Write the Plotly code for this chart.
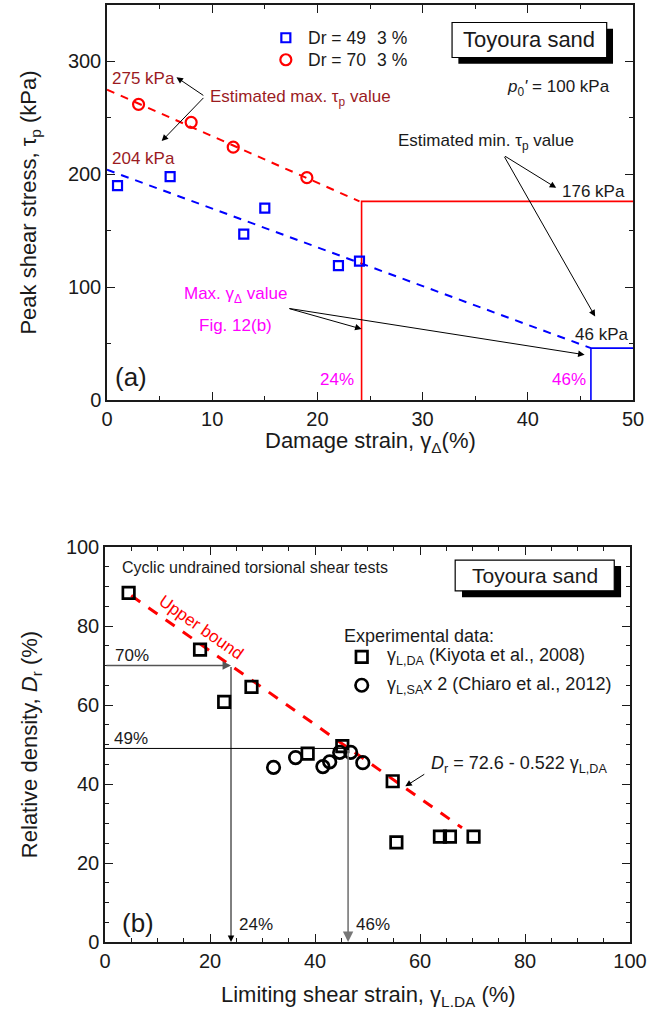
import plotly.graph_objects as go

# ---------------- data: panel (a) ----------------
blue_x = [1, 6, 13, 15, 22, 24]
blue_y = [190, 198, 147, 170, 119, 123]
red_x = [3, 8, 12, 19]
red_y = [262, 246, 224, 197]
red_fit_x = [0, 24]
red_fit_y = [275, 176]
blue_fit_x = [0, 46]
blue_fit_y = [204, 46]
red_lim_x = [24.2, 24.2, 50]
red_lim_y = [0, 176, 176]
blue_lim_x = [46, 46, 50]
blue_lim_y = [0, 46, 46]

# ---------------- data: panel (b) ----------------
sq_x = [4.5, 18.1, 22.7, 27.9, 38.6, 45.2, 54.8, 55.5, 63.8, 65.7, 70.2]
sq_y = [88.4, 74.0, 60.8, 64.6, 47.7, 49.6, 40.7, 25.2, 26.7, 26.7, 26.7]
circ_x = [32.1, 36.3, 41.5, 42.8, 44.7, 46.8, 49.1]
circ_y = [44.2, 46.7, 44.4, 45.6, 48.0, 48.0, 45.4]
ub_x = [5, 68]
ub_y = [87.7, 28.9]

FONT = "Liberation Sans, Arial, sans-serif"
DARKRED = "#9B1B1F"
MAGENTA = "#FF00FF"

fig = go.Figure()

# panel (a) traces
fig.add_trace(go.Scatter(x=red_fit_x, y=red_fit_y, mode="lines",
                         line=dict(color="#FF0000", width=2, dash="8px,7px"), xaxis="x", yaxis="y"))
fig.add_trace(go.Scatter(x=blue_fit_x, y=blue_fit_y, mode="lines",
                         line=dict(color="#0000FF", width=2, dash="8px,7px"), xaxis="x", yaxis="y"))
fig.add_trace(go.Scatter(x=red_lim_x, y=red_lim_y, mode="lines",
                         line=dict(color="#FF0000", width=1.6), xaxis="x", yaxis="y"))
fig.add_trace(go.Scatter(x=blue_lim_x, y=blue_lim_y, mode="lines",
                         line=dict(color="#0000FF", width=1.6), xaxis="x", yaxis="y"))
fig.add_trace(go.Scatter(x=blue_x, y=blue_y, mode="markers",
                         marker=dict(symbol="square-open", size=9, color="#0000FF", line=dict(width=2.2)),
                         xaxis="x", yaxis="y"))
fig.add_trace(go.Scatter(x=red_x, y=red_y, mode="markers",
                         marker=dict(symbol="circle-open", size=11, color="#FF0000", line=dict(width=2.2)),
                         xaxis="x", yaxis="y"))
# legend symbols (a)
fig.add_trace(go.Scatter(x=[17], y=[321], mode="markers",
                         marker=dict(symbol="square-open", size=9, color="#0000FF", line=dict(width=2.2)),
                         xaxis="x", yaxis="y"))
fig.add_trace(go.Scatter(x=[17], y=[301.5], mode="markers",
                         marker=dict(symbol="circle-open", size=11, color="#FF0000", line=dict(width=2.2)),
                         xaxis="x", yaxis="y"))

# panel (b) traces
fig.add_trace(go.Scatter(x=ub_x, y=ub_y, mode="lines",
                         line=dict(color="#FF0000", width=3, dash="11px,10px"), xaxis="x2", yaxis="y2"))
fig.add_trace(go.Scatter(x=sq_x, y=sq_y, mode="markers",
                         marker=dict(symbol="square-open", size=11.5, color="black", line=dict(width=2.7)),
                         xaxis="x2", yaxis="y2"))
fig.add_trace(go.Scatter(x=circ_x, y=circ_y, mode="markers",
                         marker=dict(symbol="circle-open", size=12.5, color="black", line=dict(width=2.7)),
                         xaxis="x2", yaxis="y2"))
fig.add_trace(go.Scatter(x=[48.9], y=[72.2], mode="markers",
                         marker=dict(symbol="square-open", size=11.5, color="black", line=dict(width=2.7)),
                         xaxis="x2", yaxis="y2"))
fig.add_trace(go.Scatter(x=[48.9], y=[65.0], mode="markers",
                         marker=dict(symbol="circle-open", size=12.5, color="black", line=dict(width=2.7)),
                         xaxis="x2", yaxis="y2"))

W, H = 658, 1012


def axis(domain, rng, dtick, minor, title, standoff, anchor):
    d = dict(domain=domain, range=rng, dtick=dtick, tick0=0, showgrid=False, zeroline=False,
             showline=True, linecolor="#1a1a1a", linewidth=1.5, mirror="ticks",
             ticks="inside", ticklen=8, tickwidth=1.2, tickcolor="#1a1a1a",
             minor=dict(ticks="inside", dtick=minor, ticklen=4, tickwidth=1.2, tickcolor="#1a1a1a"),
             tickfont=dict(family=FONT, size=20, color="#1a1a1a"),
             title=dict(text=title, font=dict(family=FONT, size=22, color="#1a1a1a"), standoff=standoff),
             automargin=False, anchor=anchor, fixedrange=True)
    return d


layout = dict(
    width=W, height=H, margin=dict(l=0, r=0, t=0, b=0),
    paper_bgcolor="white", plot_bgcolor="white", showlegend=False,
    font=dict(family=FONT, color="#1a1a1a"),
    xaxis=axis([107 / W, 633 / W], [0, 50], 10, 5, "", 0, "y"),
    yaxis=axis([1 - 400 / H, 1 - 5 / H], [0, 350], 100, 50, "Peak shear stress, τ<sub>p</sub> (kPa)", 25, "x"),
    xaxis2=axis([105 / W, 630 / W], [0, 100], 20, 5, "", 16, "y2"),
    yaxis2=axis([1 - 942 / H, 1 - 547 / H], [0, 100], 20, 5, "Relative density, <i>D</i><sub>r</sub> (%)", 22, "x2"),
)
fig.update_layout(**layout)

shapes = []
# Toyoura box (a)
shapes.append(dict(type="rect", xref="x", yref="y", x0=33.4, x1=48.1, y0=298, y1=329,
                   fillcolor="black", line=dict(width=0), layer="above"))
shapes.append(dict(type="rect", xref="x", yref="y", x0=32.8, x1=47.5, y0=303.5, y1=334.5,
                   fillcolor="white", line=dict(color="black", width=1.2), layer="above"))
# Toyoura box (b)
shapes.append(dict(type="rect", xref="x2", yref="y2", x0=68.0, x1=98.3, y0=87.3, y1=95.2,
                   fillcolor="black", line=dict(width=0), layer="above"))
shapes.append(dict(type="rect", xref="x2", yref="y2", x0=66.7, x1=97.0, y0=88.9, y1=96.7,
                   fillcolor="white", line=dict(color="black", width=1.2), layer="above"))
# 49% horizontal line (b)
shapes.append(dict(type="line", xref="x2", yref="y2", x0=0, x1=46.3, y0=49, y1=49,
                   line=dict(color="black", width=1)))
fig.update_layout(shapes=shapes)

ann = []


def txt(x, y, text, xref="x", yref="y", size=17, color="#1a1a1a", xanchor="left", **kw):
    ann.append(dict(x=x, y=y, xref=xref, yref=yref, text=text, showarrow=False,
                    xanchor=xanchor, yanchor="middle",
                    font=dict(family=FONT, size=size, color=color), **kw))


def arrow(x0, y0, x1, y1, xref="x", yref="y", color="black", width=1):
    ann.append(dict(x=x1, y=y1, ax=x0, ay=y0, xref=xref, yref=yref, axref=xref, ayref=yref,
                    text="", showarrow=True, arrowhead=2, arrowsize=1.3, arrowwidth=width,
                    arrowcolor=color, standoff=0, startstandoff=0))


# x-axis titles placed in paper coordinates
txt(370 / W, 1 - 442 / H, "Damage strain, γ<sub>Δ</sub>(%)", "paper", "paper", size=22, xanchor="center")
txt(368 / W, 1 - 996 / H, "Limiting shear strain, γ<sub>L.DA</sub> (%)", "paper", "paper", size=22, xanchor="center")

# panel (a) text
txt(18.9, 321, "Dr = 49\u00a0\u00a0\u200a3 %", size=17.5)
txt(18.9, 301.5, "Dr = 70\u00a0\u00a0\u200a3 %", size=17.5)
txt(0.3, 285, "275 kPa", color=DARKRED)
txt(0.3, 214, "204 kPa", color=DARKRED)
txt(9.6, 268, "Estimated max. τ<sub>p</sub> value", color=DARKRED)
txt(37.8, 276.5, "<i>p</i><sub>0</sub><i>'</i> = 100 kPa")
txt(40.15, 319, "Toyoura sand", size=22, xanchor="center")
txt(27.5, 228.5, "Estimated min. τ<sub>p</sub> value")
txt(43.1, 184.6, "176 kPa")
txt(44.3, 57.6, "46 kPa")
txt(12.2, 92.9, "Max. γ<sub>Δ</sub> value", color=MAGENTA, xanchor="center")
txt(12.2, 65.9, "Fig. 12(b)", color=MAGENTA, xanchor="center")
txt(23.7, 18.4, "24%", color=MAGENTA, xanchor="right")
txt(45.7, 18.4, "46%", color=MAGENTA, xanchor="right")
txt(0.6, 20, "(a)", size=26)
arrow(9.3, 269, 6.6, 286)
arrow(9.3, 269, 5.2, 229.4)
arrow(37.7, 216.8, 42.7, 188)
arrow(37.7, 216.8, 46.4, 74)
arrow(17.2, 81.3, 24.2, 62.9)
arrow(17.2, 81.3, 45.4, 40.1)

# panel (b) text
X2, Y2 = "x2", "y2"
txt(2.9, 94.7, "Cyclic undrained torsional shear tests", X2, Y2, size=16)
txt(81.85, 92.8, "Toyoura sand", X2, Y2, size=21, xanchor="center")
txt(45.2, 77.4, "Experimental data:", X2, Y2, size=18)
txt(53.3, 72.2, "γ<sub>L,DA</sub> (Kiyota et al., 2008)", X2, Y2, size=18)
txt(53.3, 65.0, "γ<sub>L,SA</sub>x 2 (Chiaro et al., 2012)", X2, Y2, size=18)
txt(18.3, 79.6, "Upper bound", X2, Y2, size=17, color="#FF0000", xanchor="center", textangle=35)
txt(61.8, 45.0, "<i>D</i><sub>r</sub> = 72.6 - 0.522 γ<sub>L,DA</sub>", X2, Y2, size=18)
txt(1.5, 72.6, "70%", X2, Y2, size=17)
txt(1.3, 51.5, "49%", X2, Y2, size=17)
txt(25.1, 4.4, "24%", X2, Y2, size=17)
txt(47.4, 4.4, "46%", X2, Y2, size=17)
txt(2.9, 4.8, "(b)", X2, Y2, size=26)
arrow(61.1, 42.7, 57.2, 39.4, X2, Y2)
arrow(0, 70, 24, 70, X2, Y2, color="#555555", width=1.3)
arrow(24, 70, 24, 0, X2, Y2, color="black", width=1)
arrow(46.3, 49, 46.3, 0, X2, Y2, color="#777777", width=1.6)

fig.update_layout(annotations=ann)
fig.write_html("out.html")
